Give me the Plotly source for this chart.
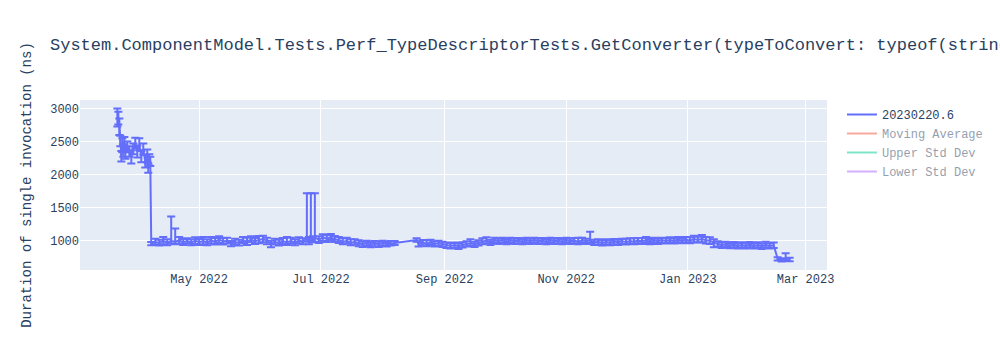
import plotly.graph_objects as go

dates = [
    "2022-03-21 00:00", "2022-03-21 12:00", "2022-03-22 00:00", "2022-03-22 12:00",
    "2022-03-23 00:00", "2022-03-23 12:00", "2022-03-24 00:00", "2022-03-24 12:00",
    "2022-03-25 00:00", "2022-03-26 00:00", "2022-03-27 00:00", "2022-03-28 00:00",
    "2022-03-29 00:00", "2022-03-30 00:00", "2022-03-31 00:00", "2022-04-01 00:00",
    "2022-04-02 00:00", "2022-04-03 00:00", "2022-04-04 00:00", "2022-04-05 00:00",
    "2022-04-05 12:00", "2022-04-06 00:00", "2022-04-06 12:00",
    "2022-04-07", "2022-04-09", "2022-04-11", "2022-04-13", "2022-04-15", "2022-04-17",
    "2022-04-19", "2022-04-21", "2022-04-23", "2022-04-25", "2022-04-27", "2022-04-29",
    "2022-05-01", "2022-05-03", "2022-05-05", "2022-05-07", "2022-05-09", "2022-05-11",
    "2022-05-13", "2022-05-15", "2022-05-17", "2022-05-19", "2022-05-21", "2022-05-23",
    "2022-05-25", "2022-05-27", "2022-05-29", "2022-05-31",
    "2022-06-02", "2022-06-04", "2022-06-06", "2022-06-08", "2022-06-10", "2022-06-12",
    "2022-06-14", "2022-06-16", "2022-06-18", "2022-06-20", "2022-06-22", "2022-06-24",
    "2022-06-25", "2022-06-26", "2022-06-27", "2022-06-28", "2022-06-30",
    "2022-07-02", "2022-07-04", "2022-07-06", "2022-07-08", "2022-07-10", "2022-07-12",
    "2022-07-14", "2022-07-16", "2022-07-18", "2022-07-20", "2022-07-22", "2022-07-24",
    "2022-07-26", "2022-07-28", "2022-07-30",
    "2022-08-01", "2022-08-03", "2022-08-05", "2022-08-07", "2022-08-18", "2022-08-19",
    "2022-08-21", "2022-08-23", "2022-08-25", "2022-08-27", "2022-08-29", "2022-08-31",
    "2022-09-02", "2022-09-04", "2022-09-06", "2022-09-08", "2022-09-10", "2022-09-12",
    "2022-09-14", "2022-09-16", "2022-09-18", "2022-09-20", "2022-09-22", "2022-09-24",
    "2022-09-26", "2022-09-28", "2022-09-30",
    "2022-10-02", "2022-10-04", "2022-10-06", "2022-10-08", "2022-10-10", "2022-10-12",
    "2022-10-14", "2022-10-16", "2022-10-18", "2022-10-20", "2022-10-22", "2022-10-24",
    "2022-10-26", "2022-10-28", "2022-10-30",
    "2022-11-01", "2022-11-03", "2022-11-05", "2022-11-07", "2022-11-09", "2022-11-11",
    "2022-11-13", "2022-11-15", "2022-11-17", "2022-11-19", "2022-11-21", "2022-11-23",
    "2022-11-25", "2022-11-27", "2022-11-29",
    "2022-12-01", "2022-12-03", "2022-12-05", "2022-12-07", "2022-12-09", "2022-12-11",
    "2022-12-13", "2022-12-15", "2022-12-17", "2022-12-19", "2022-12-21", "2022-12-23",
    "2022-12-25", "2022-12-27", "2022-12-29", "2022-12-31",
    "2023-01-02", "2023-01-04", "2023-01-06", "2023-01-08", "2023-01-10", "2023-01-12",
    "2023-01-14", "2023-01-16", "2023-01-18", "2023-01-20", "2023-01-22", "2023-01-24",
    "2023-01-26", "2023-01-28", "2023-01-30",
    "2023-02-01", "2023-02-03", "2023-02-05", "2023-02-07", "2023-02-09", "2023-02-11",
    "2023-02-13", "2023-02-15", "2023-02-17", "2023-02-19", "2023-02-21",
]

durations = [
    2830, 2870, 2760, 2520,
    2280, 2450, 2380, 2500,
    2320, 2420, 2350, 2280,
    2400, 2480, 2350, 2450,
    2280, 2380, 2200, 2300,
    2100, 2250, 2200,
    960, 985, 970, 1000, 975, 1000,
    990, 1010, 980, 1000, 975, 1005,
    980, 1000, 975, 1010, 985, 1020,
    995, 1000, 960, 985, 970, 1010,
    990, 1020, 995, 1015,
    1030, 1000, 955, 985, 970, 995,
    980, 1000, 975, 1005, 990, 1040,
    1000, 1060, 1020, 1050, 1020,
    1050, 1035, 1055, 1025, 1010, 990,
    1000, 975, 985, 960, 950, 965,
    945, 960, 950,
    965, 950, 965, 970, 1015, 955,
    975, 960, 980, 955, 965, 950,
    935, 925, 935, 920, 940, 955,
    965, 950, 970, 990, 1005, 980,
    1010, 995, 1010,
    990, 1010, 995, 1005, 990, 1010,
    995, 1010, 995, 1005, 990, 1010,
    995, 1005, 990,
    1010, 995, 1005, 990, 1010, 995,
    1010, 980, 985, 970, 985, 975,
    990, 980, 995,
    985, 1000, 990, 1005, 995, 1010,
    990, 1010, 995, 1010, 1000, 1015,
    1000, 1020, 1005, 1020,
    1005, 1030, 1015, 1030, 1010, 1005,
    975, 955, 935, 950, 930, 945,
    925, 940, 925,
    945, 925, 940, 920, 940, 925,
    935, 730, 715, 725, 720,
]

err_plus = [
    170, 80, 90, 70,
    80, 100, 80, 70,
    90, 80, 80, 90,
    70, 80, 90, 100,
    80, 90, 100, 80,
    70, 60, 70,
    25, 50, 50, 60, 50, 370,
    200, 50, 50, 40, 50, 50,
    50, 60, 50, 50, 60, 50,
    50, 50, 40, 50, 50, 50,
    60, 50, 50, 60,
    50, 50, 50, 50, 50, 50,
    80, 50, 50, 50, 50, 680,
    60, 660, 50, 670, 50,
    50, 50, 50, 50, 50, 50,
    50, 50, 40, 50, 40, 40,
    40, 40, 40,
    40, 35, 35, 30, 25, 40,
    40, 50, 40, 40, 40, 40,
    40, 40, 40, 40, 40, 40,
    60, 40, 40, 50, 50, 40,
    40, 40, 40,
    40, 40, 40, 40, 40, 40,
    40, 40, 40, 40, 40, 40,
    40, 40, 40,
    40, 40, 40, 60, 40, 40,
    130, 40, 40, 40, 40, 40,
    40, 40, 40,
    50, 40, 50, 40, 50, 50,
    40, 40, 40, 40, 40, 40,
    40, 40, 40, 40,
    50, 50, 50, 60, 50, 50,
    50, 40, 40, 40, 40, 40,
    40, 40, 40,
    40, 40, 40, 40, 50, 40,
    40, 25, 25, 90, 25,
]

err_minus = [
    100, 110, 160, 90,
    80, 110, 110, 90,
    80, 80, 80, 110,
    90, 80, 90, 80,
    90, 80, 90, 110,
    70, 110, 70,
    25, 40, 40, 50, 40, 40,
    40, 50, 40, 40, 40, 50,
    40, 50, 40, 50, 40, 50,
    50, 40, 40, 40, 40, 40,
    50, 40, 40, 50,
    50, 50, 50, 40, 40, 40,
    40, 40, 40, 40, 40, 50,
    50, 60, 40, 60, 50,
    50, 50, 40, 40, 40, 40,
    40, 40, 40, 40, 40, 40,
    40, 40, 40,
    40, 35, 35, 30, 25, 40,
    40, 40, 40, 40, 40, 40,
    40, 40, 40, 40, 40, 40,
    40, 40, 40, 40, 40, 40,
    40, 40, 40,
    40, 40, 40, 40, 40, 40,
    40, 40, 40, 40, 40, 40,
    40, 40, 40,
    40, 40, 40, 40, 40, 40,
    40, 40, 40, 40, 40, 40,
    40, 40, 40,
    40, 40, 40, 40, 40, 40,
    40, 40, 40, 40, 40, 40,
    40, 40, 40, 40,
    40, 50, 40, 50, 50, 50,
    70, 40, 40, 40, 40, 40,
    40, 40, 40,
    40, 40, 40, 40, 40, 40,
    40, 25, 25, 25, 25,
]

series_name = "20230220.6"
hidden_names = ["Moving Average", "Upper Std Dev", "Lower Std Dev"]
hidden_colors = ["#EF553B", "#00cc96", "#ab63fa"]
title_text = ("System.ComponentModel.Tests.Perf_TypeDescriptorTests."
              "GetConverter(typeToConvert: typeof(string))")
y_title = "Duration of single invocation (ns)"

fig = go.Figure()
fig.add_trace(go.Scatter(
    x=dates, y=durations, mode="lines", name=series_name,
    line=dict(color="#636efa", width=2),
    error_y=dict(type="data", symmetric=False, array=err_plus,
                 arrayminus=err_minus, color="#636efa", thickness=2, width=4),
))
for nm, col in zip(hidden_names, hidden_colors):
    fig.add_trace(go.Scatter(x=dates, y=durations, mode="lines", name=nm,
                             line=dict(color=col), visible="legendonly"))

fig.update_layout(
    template="plotly",
    width=1000, height=350,
    font=dict(family="Liberation Mono, Courier New, monospace"),
    title=dict(text=title_text),
    yaxis=dict(title=dict(text=y_title)),
    margin=dict(l=80, r=80, t=100, b=80),
)

fig.write_html("out.html")
